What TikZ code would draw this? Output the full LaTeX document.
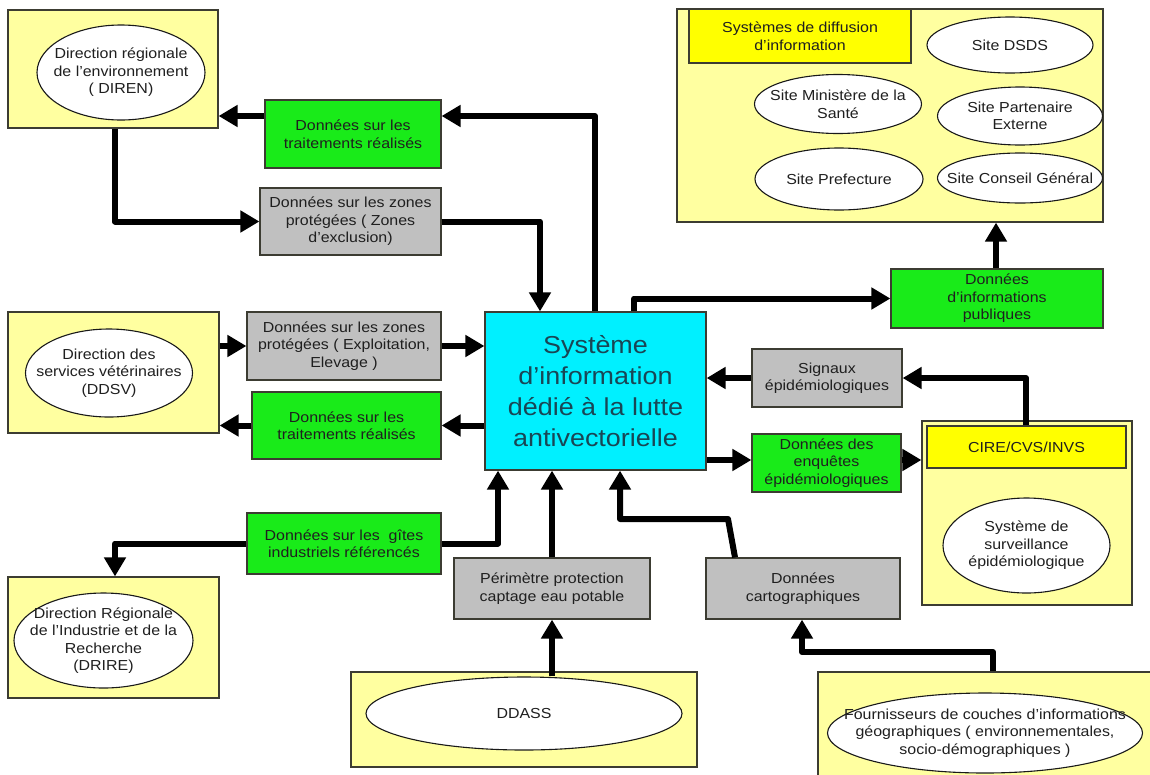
\documentclass[tikz,border=0pt]{standalone}
\usepackage{fontspec}
\setmainfont{Liberation Sans}[FakeStretch=1.1]
\usetikzlibrary{arrows.meta,shapes.geometric}
\definecolor{paleY}{RGB}{255,255,160}
\definecolor{yel}{RGB}{255,255,0}
\definecolor{grn}{RGB}{25,235,25}
\definecolor{gry}{RGB}{192,192,192}
\definecolor{cyn}{RGB}{0,240,255}
\definecolor{ctext}{RGB}{25,70,85}
\definecolor{bord}{RGB}{60,60,50}
\tikzset{
  sz/.style 2 args={minimum width=#1pt, minimum height=#2pt},
  box/.style={draw=bord, line width=1.2pt, inner sep=1pt, align=center,
    font=\fontsize{14.5}{17.5}\selectfont, text=black!88},
  pale/.style={box, fill=paleY},
  ybox/.style={box, fill=yel},
  gbox/.style={box, fill=grn},
  grbox/.style={box, fill=gry},
  ell/.style={draw=black!90, line width=1.1pt, ellipse, fill=white, inner sep=0pt},
  lbl/.style={align=center, font=\fontsize{14.5}{17.5}\selectfont, text=black!88, inner sep=0pt},
  arr/.style={line width=6pt, line join=round, -{Triangle[length=19pt,width=21pt]}},
}
\begin{document}
\begin{tikzpicture}[x=1pt,y=-1pt]
\useasboundingbox (0,0) rectangle (1150,774);
\clip (0,0) rectangle (1150,774);
\fill[white] (0,0) rectangle (1150,774);

% left column
\node[pale, sz={210}{118}] (dirBox) at (113,69) {};
\node[ell, sz={168}{95}] (dirEll) at (121,72.5) {};
\node[lbl] at (dirEll) {Direction régionale\\de l’environnement\\( DIREN)};
\node[gbox, sz={176}{68}] (t1) at (353,134) {Données sur les\\traitements réalisés};
\node[grbox, sz={181}{67}] (z1) at (350.5,221.5) {Données sur les zones\\protégées ( Zones\\d'exclusion)};

\node[pale, sz={211}{121}] (ddsvBox) at (113.5,372.5) {};
\node[ell, sz={167}{88}] (ddsvEll) at (109,373) {};
\node[lbl] at (ddsvEll) {Direction des\\services vétérinaires\\(DDSV)};
\node[grbox, sz={194}{68}] (z2) at (344,346) {Données sur les zones\\protégées ( Exploitation,\\Elevage )};
\node[gbox, sz={189}{67}] (t2) at (346.5,425.5) {Données sur les\\traitements réalisés};

\node[gbox, sz={194}{61}] (t3) at (344,543.5) {Données sur les~~gîtes\\industriels référencés};
\node[pale, sz={211}{121}] (drireBox) at (113.5,637.5) {};
\node[ell, sz={179}{95}] (drireEll) at (103.5,640.5) {};
\node[lbl] at (drireEll) {Direction Régionale\\de l'Industrie et de la\\Recherche\\(DRIRE)};

% centre
\node[box, fill=cyn, sz={221}{158}, text=ctext, font=\fontsize{24.5}{31}\selectfont] (center) at (595.5,391)
  {Système\\d’information\\dédié à la lutte\\antivectorielle};

% bottom
\node[grbox, sz={196}{61}] (per) at (552,588.5) {Périmètre protection\\captage eau potable};
\node[grbox, sz={194}{61}] (carto) at (803,588.5) {Données\\cartographiques};
\node[pale, sz={346}{95}] (ddassBox) at (524,719.5) {};
\node[ell, sz={316}{73}] (ddassEll) at (524,713.5) {};
\node[lbl] at (ddassEll) {DDASS};
\node[pale, sz={342}{112}] (fourBox) at (989,728) {};
\node[ell, sz={315}{80}] (fourEll) at (985,733) {};
\node[lbl] at (fourEll) {Fournisseurs de couches d’informations\\géographiques ( environnementales,\\socio-démographiques )};

% top right
\node[pale, sz={426}{213}] (trBox) at (890,115.5) {};
\node[ybox, sz={222}{54}] (trTitle) at (800,36) {Systèmes de diffusion\\d’information};
\node[ell, sz={166}{56}] (dsds) at (1010,45) {};
\node[lbl] at (dsds) {Site DSDS};
\node[ell, sz={167}{59}] (mini) at (838,104) {};
\node[lbl] at (mini) {Site Ministère de la\\Santé};
\node[ell, sz={165}{58}] (part) at (1020,116) {};
\node[lbl] at (part) {Site Partenaire\\Externe};
\node[ell, sz={168}{62}] (pref) at (839,179) {};
\node[lbl] at (pref) {Site Prefecture};
\node[ell, sz={165}{50}] (cons) at (1020,178) {};
\node[lbl] at (cons) {Site Conseil Général};

% right
\node[gbox, sz={212}{59}] (pub) at (997,298.5) {Données\\d’informations\\publiques};
\node[grbox, sz={150}{58}] (sig) at (827,378) {Signaux\\épidémiologiques};
\node[gbox, sz={149}{58}] (enq) at (826.5,463) {Données des\\enquêtes\\épidémiologiques};
\node[pale, sz={210}{184}] (cireBox) at (1027,513) {};
\node[ybox, sz={199}{42}] (cireTitle) at (1026.5,447) {CIRE/CVS/INVS};
\node[ell, sz={167}{95}] (survEll) at (1026.5,545.5) {};
\node[lbl] at (survEll) {Système de\\surveillance\\épidémiologique};

% helper coordinates
\coordinate (yT1) at (0,116);
\coordinate (xA) at (595,0);
\coordinate (xB) at (115,0);
\coordinate (xC) at (540,0);
\coordinate (xD) at (634,0);
\coordinate (xE) at (996,0);
\coordinate (xF) at (1026,0);
\coordinate (yH) at (0,460);
\coordinate (xO) at (498,0);
\coordinate (xP) at (552,0);
\coordinate (xQ) at (735,0);
\coordinate (cq) at (728,519);
\coordinate (xQ3) at (620,0);
\coordinate (cs) at (993,652);
\coordinate (xS) at (993,0);
\coordinate (xSc) at (802,0);

% connectors
\draw[arr] (center.north -| xA) |- (t1.east |- yT1);
\draw[arr] (t1.west |- yT1) -- (dirBox.east |- yT1);
\draw[arr] (dirBox.south -| xB) |- (z1.west);
\draw[arr] (z1.east) -| (center.north -| xC);
\draw[arr] (center.north -| xD) |- (pub.west);
\draw[arr] (pub.north -| xE) -- (trBox.south -| xE);
\draw[arr] (cireTitle.north -| xF) |- (sig.east);
\draw[arr] (sig.west) -- (center.east |- sig.west);
\draw[arr] (center.east |- yH) -- (enq.west |- yH);
\draw[arr] (enq.east |- yH) -- (cireBox.west |- yH);
\draw[arr] (ddsvBox.east |- z2.west) -- (z2.west);
\draw[arr] (z2.east) -- (center.west |- z2.east);
\draw[arr] (center.west |- t2.east) -- (t2.east);
\draw[arr] (t2.west) -- (ddsvBox.east |- t2.west);
\draw[arr] (t3.west) -| (drireBox.north -| xB);
\draw[arr] (t3.east) -| (center.south -| xO);
\draw[arr] (per.north -| xP) -- (center.south -| xP);
\draw[arr] (carto.north -| xQ) -- (cq) -| (center.south -| xQ3);
\draw[arr] (ddassEll.north -| xP) -- (per.south -| xP);
\draw[arr] (fourBox.north -| xS) -- (cs) -| (carto.south -| xSc);
\end{tikzpicture}
\end{document}
